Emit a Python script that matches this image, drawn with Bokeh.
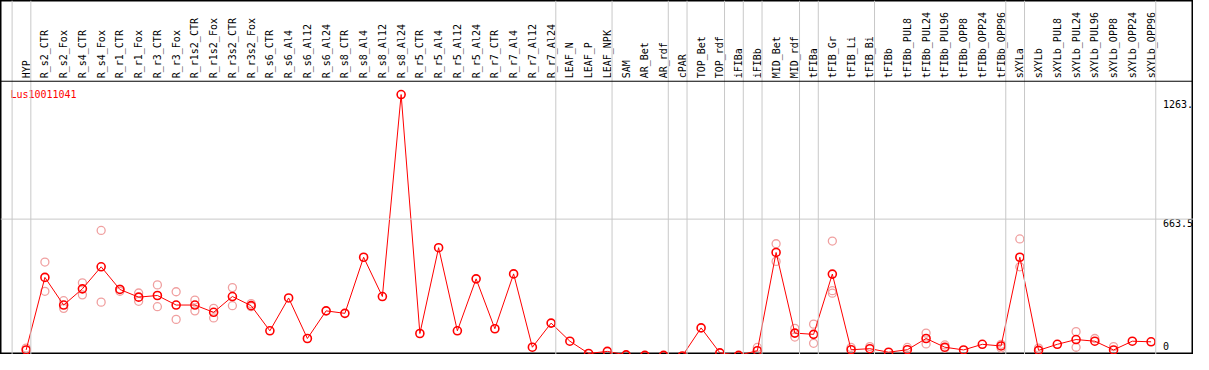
import math
from bokeh.plotting import figure
from bokeh.models import ColumnDataSource, Range1d, Span
from bokeh.core.properties import value
from bokeh.embed import file_html
from bokeh.resources import INLINE

nan = float("nan")

categories = [
    "HYP", "R_s2_CTR", "R_s2_Fox", "R_s4_CTR", "R_s4_Fox", "R_r1_CTR", "R_r1_Fox",
    "R_r3_CTR", "R_r3_Fox", "R_r1s2_CTR", "R_r1s2_Fox", "R_r3s2_CTR", "R_r3s2_Fox",
    "R_s6_CTR", "R_s6_Al4", "R_s6_Al12", "R_s6_Al24", "R_s8_CTR", "R_s8_Al4",
    "R_s8_Al12", "R_s8_Al24", "R_r5_CTR", "R_r5_Al4", "R_r5_Al12", "R_r5_Al24",
    "R_r7_CTR", "R_r7_Al4", "R_r7_Al12", "R_r7_Al24", "LEAF_N", "LEAF_P", "LEAF_NPK",
    "SAM", "AR_Bet", "AR_rdf", "cPAR", "TOP_Bet", "TOP_rdf", "iFIBa", "iFIBb",
    "MID_Bet", "MID_rdf", "tFIBa", "tFIB_Gr", "tFIB_Li", "tFIB_Bi", "tFIBb",
    "tFIBb_PUL8", "tFIBb_PUL24", "tFIBb_PUL96", "tFIBb_OPP8", "tFIBb_OPP24",
    "tFIBb_OPP96", "sXYLa", "sXYLb", "sXYLb_PUL8", "sXYLb_PUL24", "sXYLb_PUL96",
    "sXYLb_OPP8", "sXYLb_OPP24", "sXYLb_OPP96",
]

mean_vals = [
    34, 383, 250, 328, 434, 325, 288, 296, 250, 250, 215, 291, 247,
    126, 284, 89, 222, 210, 480, 291, 1263, 113, 526, 126, 376,
    136, 400, 47, 163, 76, 17, 27,
    10, 8, 8, 5, 140, 20, 8, 30,
    503, 115, 109, 399, 35, 40, 23,
    35, 89, 47, 34, 61, 53, 480, 32, 61, 84, 76, 34, 76, 73,
]

rep_a = [
    43, 457, 271, 357, 609, 316, 308, 347, 314, 274, 234, 334, 257,
    nan, nan, nan, nan, nan, nan, nan, nan, nan, nan, nan, nan,
    nan, nan, nan, nan, nan, nan, nan,
    nan, nan, nan, nan, nan, nan, nan, 46,
    545, 138, 158, 558, 46, 50, nan,
    46, 115, 58, nan, nan, 43, 568, 43, nan, 122, 89, 50, nan, nan,
]

rep_b = [
    nan, 316, 234, 299, 264, 327, 268, 242, 181, 222, 188, 247, 242,
    nan, nan, nan, nan, nan, nan, nan, nan, nan, nan, nan, nan,
    nan, nan, nan, nan, nan, nan, nan,
    nan, nan, nan, nan, nan, nan, nan, nan,
    460, 96, 66, 319, nan, nan, nan,
    nan, 63, 43, nan, nan, 61, 434, nan, nan, 47, nan, nan, nan, nan,
]

rep_c = [nan] * 43 + [307] + [nan] * 17

group_sizes = [1, 28, 3, 3, 1, 2, 1, 1, 2, 1, 3, 7, 1, 7]
gene_id = "Lus10011041"
y_tick_vals = [1263, 663.5, 0]
y_tick_text = ["1263.", "663.5", "0"]
y_top = 1327

W, H = 1193, 354
MONO = value("DejaVu Sans Mono")

xs = list(range(len(categories)))
src = ColumnDataSource(dict(x=xs, cat=categories, m=mean_vals, a=rep_a, b=rep_b, c=rep_c))

p = figure(width=W, height=H, output_backend="svg", toolbar_location=None,
           x_range=Range1d(-26 / 19, 1183 / 19), y_range=Range1d(12, 1715.6),
           x_axis_location=None, y_axis_location=None, min_border=0)
p.grid.visible = False
p.outline_line_color = "black"
p.outline_line_width = 2
p.background_fill_color = "white"
p.border_fill_color = "white"

GRAY = "#c8c8c8"
# group separators
bounds = [-0.75]
acc = 0
for g in group_sizes:
    acc += g
    bounds.append(acc - 1 + 0.25)
for b in bounds:
    p.add_layout(Span(location=b, dimension="height", line_color=GRAY, line_width=1))
# mid gridline
p.add_layout(Span(location=y_tick_vals[1], dimension="width", line_color=GRAY, line_width=1))
# header line
p.add_layout(Span(location=y_top, dimension="width", line_color="black", line_width=1))

# category labels (rotated)
p.text(x="x", y=y_top, text="cat", source=src, angle=math.pi / 2,
       text_align="left", text_baseline="middle", text_font=MONO,
       text_font_size="10px", text_color="black", y_offset=-3)

# replicates
REP = "#f0a0a0"
for col in ["a", "b", "c"]:
    p.scatter(x="x", y=col, source=src, marker="circle", size=8,
              fill_color=None, line_color=REP, line_width=1.3)

# mean line and markers
p.line(x="x", y="m", source=src, line_color="red", line_width=1)
p.scatter(x="x", y="m", source=src, marker="circle", size=8,
          fill_color=None, line_color="red", line_width=1.6)

# gene id
p.text(x=[-0.84], y=[y_top], text=[gene_id], text_align="left",
       text_baseline="top", text_font=MONO, text_font_size="10px",
       text_color="red", y_offset=8)

# value labels on the right
xr = (1178 - 26) / 19
p.text(x=[xr], y=[y_tick_vals[0]], text=[y_tick_text[0]], text_align="left",
       text_baseline="top", text_font=MONO, text_font_size="10px",
       text_color="black", y_offset=5)
p.text(x=[xr], y=[y_tick_vals[1]], text=[y_tick_text[1]], text_align="left",
       text_baseline="top", text_font=MONO, text_font_size="10px",
       text_color="black", y_offset=0)
p.text(x=[xr], y=[y_tick_vals[2]], text=[y_tick_text[2]], text_align="left",
       text_baseline="bottom", text_font=MONO, text_font_size="10px",
       text_color="black", y_offset=-7)

open("out.html", "w").write(file_html(p, INLINE))
